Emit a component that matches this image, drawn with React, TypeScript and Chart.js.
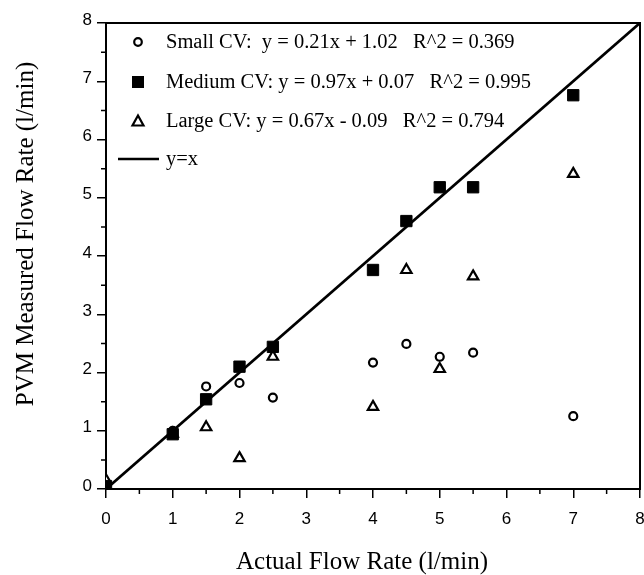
import { useEffect, useRef } from 'react';
import { Chart, registerables } from 'chart.js';

Chart.register(...registerables);

// ---- data ----
const flowRates = [0, 1, 1.5, 2, 2.5, 4, 4.5, 5, 5.5, 7];
const smallCV = [0.05, 1.0, 1.76, 1.82, 1.57, 2.17, 2.49, 2.27, 2.34, 1.25];
const mediumCV = [0.05, 0.94, 1.54, 2.1, 2.44, 3.76, 4.6, 5.18, 5.18, 6.76];
const largeCV = [0.15, 0.95, 1.06, 0.53, 2.27, 1.41, 3.76, 2.06, 3.65, 5.41];
const identityLine = [0, 8];
const axisMin = 0;
const axisMax = 8;
const legendLabels = [
  'Small CV:  y = 0.21x + 1.02   R^2 = 0.369',
  'Medium CV: y = 0.97x + 0.07   R^2 = 0.995',
  'Large CV: y = 0.67x - 0.09   R^2 = 0.794',
  'y=x',
];
const xTitle = 'Actual Flow Rate (l/min)';
const yTitle = 'PVM Measured Flow Rate (l/min)';

const SERIF = '"Liberation Serif", "Times New Roman", serif';
const SANS = '"Liberation Sans", Arial, sans-serif';

const pts = (ys: number[]) => flowRates.map((x, i) => ({ x, y: ys[i] }));

const decor = {
  id: 'decor',
  afterDraw(chart: any) {
    const { ctx, chartArea: a, scales } = chart;
    const xs = scales.x;
    const ys = scales.y;
    ctx.save();
    ctx.strokeStyle = '#000';
    ctx.fillStyle = '#000';
    // top & right frame
    ctx.lineWidth = 2;
    ctx.beginPath();
    ctx.moveTo(a.left - 1, a.top);
    ctx.lineTo(a.right, a.top);
    ctx.lineTo(a.right, a.bottom + 1);
    ctx.stroke();
    // minor ticks
    ctx.lineWidth = 1.5;
    ctx.beginPath();
    for (let v = axisMin + 0.5; v < axisMax; v += 1) {
      const px = xs.getPixelForValue(v);
      ctx.moveTo(px, a.bottom);
      ctx.lineTo(px, a.bottom + 5);
      const py = ys.getPixelForValue(v);
      ctx.moveTo(a.left, py);
      ctx.lineTo(a.left - 5, py);
    }
    ctx.stroke();

    // legend
    const mx = 138;
    const rows = [42, 82, 121, 159];
    const tx = 166;
    ctx.font = '20.5px ' + SERIF;
    ctx.textBaseline = 'middle';
    ctx.textAlign = 'left';
    legendLabels.forEach((t, i) => ctx.fillText(t, tx, rows[i] + 1));
    // circle
    ctx.lineWidth = 2.2;
    ctx.beginPath();
    ctx.arc(mx, rows[0], 3.8, 0, Math.PI * 2);
    ctx.stroke();
    // square
    ctx.fillRect(mx - 6, rows[1] - 6, 12, 12);
    // triangle
    ctx.beginPath();
    ctx.moveTo(mx, rows[2] - 5.5);
    ctx.lineTo(mx + 5.5, rows[2] + 4.5);
    ctx.lineTo(mx - 5.5, rows[2] + 4.5);
    ctx.closePath();
    ctx.stroke();
    // line
    ctx.lineWidth = 2.6;
    ctx.beginPath();
    ctx.moveTo(118, rows[3]);
    ctx.lineTo(159, rows[3]);
    ctx.stroke();

    // axis titles
    ctx.font = '25px ' + SERIF;
    ctx.textAlign = 'center';
    ctx.textBaseline = 'alphabetic';
    ctx.fillText(xTitle, 362, 569);
    ctx.translate(33, 234);
    ctx.rotate(-Math.PI / 2);
    ctx.fillText(yTitle, 0, 0);
    ctx.restore();
  },
};

export default function App() {
  const ref = useRef<HTMLCanvasElement | null>(null);
  useEffect(() => {
    if (!ref.current) return;
    const tickFont = { family: SANS, size: 17 };
    const chart = new Chart(ref.current, {
      type: 'scatter',
      data: {
        datasets: [
          {
            label: 'Medium CV',
            data: pts(mediumCV),
            pointStyle: 'rect',
            pointRadius: 8,
            borderWidth: 1,
            borderColor: '#000',
            backgroundColor: '#000',
          },
          {
            label: 'Large CV',
            data: pts(largeCV),
            pointStyle: 'triangle',
            pointRadius: 6,
            borderWidth: 2.2,
            borderColor: '#000',
            backgroundColor: '#fff',
          },
          {
            label: 'Small CV',
            data: pts(smallCV),
            pointStyle: 'circle',
            pointRadius: 4,
            borderWidth: 2.2,
            borderColor: '#000',
            backgroundColor: '#fff',
          },
          {
            type: 'line',
            label: 'y=x',
            data: identityLine.map((v) => ({ x: v, y: v })),
            borderColor: '#000',
            borderWidth: 2.8,
            pointRadius: 0,
            fill: false,
          } as any,
        ],
      },
      options: {
        responsive: false,
        animation: false,
        layout: { padding: { top: 23, right: 20, left: 0, bottom: 0 } },
        plugins: { legend: { display: false }, tooltip: { enabled: false } },
        scales: {
          x: {
            type: 'linear',
            min: axisMin,
            max: axisMax,
            afterFit: (s: any) => {
              s.height = 86;
            },
            border: { display: true, color: '#000', width: 2 },
            grid: { drawOnChartArea: false, drawTicks: true, tickLength: 9, color: '#000', lineWidth: 1.5 },
            ticks: { stepSize: 1, color: '#000', font: tickFont, padding: 11, maxRotation: 0 },
          },
          y: {
            type: 'linear',
            min: axisMin,
            max: axisMax,
            afterFit: (s: any) => {
              s.width = 106;
            },
            border: { display: true, color: '#000', width: 2 },
            grid: { drawOnChartArea: false, drawTicks: true, tickLength: 9, color: '#000', lineWidth: 1.5 },
            ticks: { stepSize: 1, color: '#000', font: tickFont, padding: 5, labelOffset: -3 },
          },
        },
      },
      plugins: [decor],
    });
    return () => chart.destroy();
  }, []);
  return (
    <div style={{ position: 'fixed', left: 0, top: 0, width: 644, height: 575, overflow: 'hidden', background: '#fff' }}>
      <canvas ref={ref} width={660} height={575} style={{ display: 'block' }} />
    </div>
  );
}
